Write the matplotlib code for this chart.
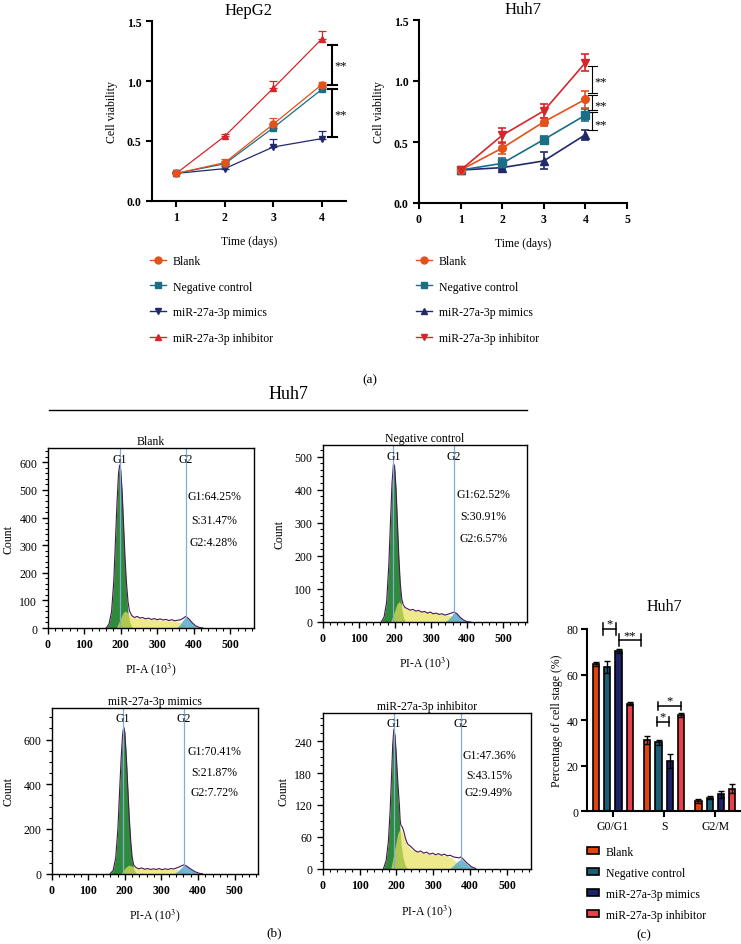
import matplotlib
matplotlib.use('Agg')
import matplotlib.pyplot as plt
from matplotlib.lines import Line2D
from matplotlib.patches import Patch
from matplotlib.ticker import MultipleLocator

plt.rcParams['font.family'] = ['Liberation Serif', 'DejaVu Serif']
plt.rcParams['mathtext.fontset'] = 'stix'
plt.rcParams['font.size'] = 8.5

# ---------------- data ----------------
groups = ['Blank', 'Negative control', 'miR-27a-3p mimics', 'miR-27a-3p inhibitor']
days = [1, 2, 3, 4]

hep_blank = [0.23, 0.32, 0.64, 0.97]
hep_blank_err = [0.01, 0.03, 0.05, 0.02]
hep_nc = [0.23, 0.31, 0.61, 0.93]
hep_nc_err = [0.01, 0.02, 0.03, 0.02]
hep_mimics = [0.23, 0.27, 0.45, 0.52]
hep_mimics_err = [0.01, 0.02, 0.07, 0.06]
hep_inhib = [0.23, 0.54, 0.94, 1.35]
hep_inhib_err = [0.01, 0.02, 0.06, 0.07]

huh_blank = [0.27, 0.45, 0.665, 0.85]
huh_blank_err = [0.02, 0.05, 0.03, 0.07]
huh_nc = [0.27, 0.325, 0.52, 0.72]
huh_nc_err = [0.02, 0.04, 0.03, 0.05]
huh_mimics = [0.27, 0.29, 0.345, 0.56]
huh_mimics_err = [0.02, 0.02, 0.07, 0.04]
huh_inhib = [0.27, 0.555, 0.755, 1.15]
huh_inhib_err = [0.02, 0.06, 0.06, 0.07]

# flow cytometry histograms: (PI-A x10^3, count) outline points
blank_g1 = [(160, 0), (168, 15), (175, 60), (181, 170), (186, 330), (190, 460), (194, 560), (197, 590),
            (200, 570), (204, 480), (208, 350), (212, 220), (216, 120), (220, 55), (225, 20), (232, 0)]
blank_s = [(188, 0), (198, 30), (206, 55), (213, 62), (220, 52), (230, 40), (245, 36), (265, 33), (285, 31),
           (305, 29), (325, 27), (345, 25), (360, 22), (372, 14), (385, 4), (395, 0)]
blank_g2 = [(352, 0), (362, 12), (370, 28), (378, 40), (386, 32), (395, 18), (405, 6), (415, 0)]
blank_env = [(160, 0), (168, 15), (175, 60), (181, 170), (186, 330), (190, 460), (194, 560), (197, 590),
             (200, 572), (204, 490), (208, 370), (212, 250), (216, 160), (220, 95), (224, 62), (230, 45),
             (238, 38), (245, 42), (252, 36), (260, 38), (268, 33), (276, 36), (284, 31), (292, 34), (300, 30),
             (308, 33), (316, 29), (324, 31), (332, 27), (340, 30), (348, 26), (356, 28), (364, 30), (372, 36),
             (378, 42), (386, 34), (395, 20), (405, 8), (415, 2), (425, 0)]

nc_g1 = [(162, 0), (170, 15), (177, 60), (183, 170), (188, 310), (192, 420), (196, 478), (199, 470),
         (203, 400), (207, 290), (211, 180), (215, 95), (219, 40), (224, 12), (230, 0)]
nc_s = [(188, 0), (198, 30), (206, 55), (212, 62), (220, 50), (230, 40), (245, 36), (265, 33), (285, 30),
        (305, 27), (325, 24), (345, 21), (355, 18), (365, 10), (375, 3), (385, 0)]
nc_g2 = [(338, 0), (348, 8), (356, 18), (364, 29), (372, 24), (380, 14), (390, 5), (400, 0)]
nc_env = [(162, 0), (170, 15), (177, 60), (183, 170), (188, 310), (192, 420), (196, 478), (199, 472),
          (203, 405), (207, 300), (211, 195), (215, 115), (219, 70), (223, 52), (228, 44), (235, 40), (242, 36),
          (250, 38), (258, 33), (266, 35), (274, 30), (282, 32), (290, 27), (298, 30), (306, 25), (314, 27),
          (322, 23), (330, 25), (338, 21), (346, 23), (354, 26), (364, 30), (372, 25), (380, 15), (390, 6),
          (400, 1), (410, 0)]

mim_g1 = [(160, 0), (168, 15), (175, 70), (181, 200), (186, 380), (190, 520), (194, 625), (197, 656),
          (200, 630), (204, 520), (208, 380), (212, 240), (216, 130), (220, 55), (225, 18), (232, 0)]
mim_s = [(190, 0), (200, 25), (210, 38), (218, 35), (228, 26), (245, 22), (265, 21), (285, 20), (305, 20),
         (325, 19), (340, 18), (352, 14), (362, 8), (372, 2), (380, 0)]
mim_g2 = [(335, 0), (345, 12), (355, 28), (362, 39), (370, 32), (380, 20), (392, 8), (405, 0)]
mim_env = [(160, 0), (168, 15), (175, 70), (181, 200), (186, 380), (190, 520), (194, 625), (197, 656),
           (200, 632), (204, 525), (208, 390), (212, 255), (216, 150), (220, 75), (224, 40), (230, 28),
           (238, 22), (246, 26), (254, 20), (262, 23), (270, 19), (278, 22), (286, 19), (294, 23), (302, 18),
           (310, 22), (318, 19), (326, 23), (334, 21), (342, 26), (350, 31), (356, 36), (362, 40), (370, 33),
           (380, 21), (392, 9), (405, 1), (412, 0)]

inh_g1 = [(165, 0), (172, 15), (178, 50), (183, 110), (187, 180), (190, 235), (193, 263), (196, 250),
          (199, 215), (202, 170), (205, 125), (209, 80), (213, 45), (218, 20), (224, 6), (230, 0)]
inh_s = [(185, 0), (195, 35), (203, 65), (210, 75), (216, 70), (222, 55), (230, 42), (240, 36), (255, 32),
         (275, 29), (295, 27), (315, 26), (335, 24), (350, 20), (362, 12), (375, 5), (390, 0)]
inh_g2 = [(345, 0), (355, 6), (365, 13), (375, 18), (383, 14), (393, 7), (405, 2), (415, 0)]
inh_env = [(165, 0), (172, 15), (178, 50), (183, 110), (187, 180), (190, 235), (193, 263), (196, 252),
           (199, 222), (202, 185), (205, 150), (208, 120), (210, 92), (212, 82), (216, 78), (220, 70),
           (224, 58), (228, 50), (232, 45), (238, 42), (244, 38), (250, 34), (258, 31), (266, 33), (274, 29),
           (282, 31), (290, 27), (298, 29), (306, 26), (314, 28), (322, 25), (330, 27), (338, 24), (346, 25),
           (354, 22), (362, 21), (370, 20), (375, 22), (382, 17), (392, 10), (404, 3), (415, 0)]

hist_titles = ['Blank', 'Negative control', 'miR-27a-3p mimics', 'miR-27a-3p inhibitor']
g1_gate = [197, 196, 195, 193]
g2_gate = [378, 364, 362, 375]
g1_pct = ['G1:64.25%', 'G1:62.52%', 'G1:70.41%', 'G1:47.36%']
s_pct = ['S:31.47%', 'S:30.91%', 'S:21.87%', 'S:43.15%']
g2_pct = ['G2:4.28%', 'G2:6.57%', 'G2:7.72%', 'G2:9.49%']

phases = ['G0/G1', 'S', 'G2/M']
bar_blank = [64.5, 31.2, 4.5]
bar_blank_err = [0.8, 1.8, 1.0]
bar_nc = [63.3, 30.3, 6.0]
bar_nc_err = [2.5, 1.0, 0.5]
bar_mimics = [70.3, 22.0, 7.5]
bar_mimics_err = [0.8, 3.0, 1.5]
bar_inhib = [47.3, 42.3, 10.0]
bar_inhib_err = [0.8, 0.8, 1.8]

# ---------------- style ----------------
C_BLANK = '#E4511B'
C_NC = '#1A6E85'
C_MIM = '#22296B'
C_INH = '#D7262B'
B_BLANK = '#E0450F'
B_NC = '#1B5F77'
B_MIM = '#1D2366'
B_INH = '#E8414C'
GREEN = '#2F8A3C'
YELLOW = '#E8E25A'
BLUE = '#4BA7C8'
OUTLINE = '#4A1650'
GATE = '#7FAFD6'

W, H = 741, 945
fig = plt.figure(figsize=(W / 100, H / 100), dpi=100)


def px_axes(l, t, r, b):
    return fig.add_axes([l / W, 1 - b / H, (r - l) / W, (b - t) / H])


def style_line_axes(ax):
    for s in ['top', 'right']:
        ax.spines[s].set_visible(False)
    for s in ['left', 'bottom']:
        ax.spines[s].set_linewidth(1.5)
    ax.tick_params(direction='out', length=4, width=1.5, labelsize=8.5)
    for lab in ax.get_xticklabels() + ax.get_yticklabels():
        lab.set_fontweight('bold')


# ---------------- (a) HepG2 ----------------
ax1 = px_axes(152, 22, 346, 202)
ax1.set_xlim(0.5, 4.5)
ax1.set_ylim(0, 1.5)
ax1.set_xticks(days)
ax1.set_yticks([0, 0.5, 1.0, 1.5])
ax1.set_yticklabels(['0.0', '0.5', '1.0', '1.5'])
hep_series = [(hep_inhib, hep_inhib_err, C_INH, '^'), (hep_mimics, hep_mimics_err, C_MIM, 'v'),
              (hep_nc, hep_nc_err, C_NC, 's'), (hep_blank, hep_blank_err, C_BLANK, 'o')]
for vals, err, c, m in hep_series:
    ax1.errorbar(days, vals, yerr=[[0] * 4, err], color=c, marker=m, ms=5, lw=0.9,
                 capsize=3, elinewidth=0.9, capthick=0.9)
style_line_axes(ax1)
ax1.set_title('HepG2', fontsize=12, pad=5)
ax1.set_xlabel('Time (days)', fontsize=8.5, labelpad=8)
ax1.set_ylabel('Cell viability', fontsize=8.5, labelpad=6)
# significance brackets
kw = dict(color='black', lw=1.5, clip_on=False)
ax1.plot([4.21, 4.21], [0.965, 1.30], **kw)
ax1.plot([4.21, 4.21], [0.53, 0.935], **kw)
for yy in [1.30, 0.965, 0.935, 0.53]:
    ax1.plot([4.12, 4.31], [yy, yy], **kw)
ax1.text(4.38, 1.13, '**', ha='center', va='center', fontsize=9, clip_on=False)
ax1.text(4.38, 0.72, '**', ha='center', va='center', fontsize=9, clip_on=False)

# ---------------- (a) Huh7 ----------------
ax2 = px_axes(419, 21, 627, 204)
ax2.set_xlim(0, 5)
ax2.set_ylim(0, 1.5)
ax2.set_xticks([0, 1, 2, 3, 4, 5])
ax2.set_yticks([0, 0.5, 1.0, 1.5])
ax2.set_yticklabels(['0.0', '0.5', '1.0', '1.5'])
huh_series = [(huh_mimics, huh_mimics_err, C_MIM, '^'), (huh_nc, huh_nc_err, C_NC, 's'),
              (huh_blank, huh_blank_err, C_BLANK, 'o'), (huh_inhib, huh_inhib_err, C_INH, 'v')]
for vals, err, c, m in huh_series:
    ax2.errorbar(days, vals, yerr=err, color=c, marker=m, ms=5.5, lw=1.2,
                 capsize=3, elinewidth=1.2, capthick=1.2)
style_line_axes(ax2)
ax2.set_title('Huh7', fontsize=12, pad=5)
ax2.set_xlabel('Time (days)', fontsize=8.5, labelpad=8)
ax2.set_ylabel('Cell viability', fontsize=8.5, labelpad=6)
kw2 = dict(color='black', lw=0.8, clip_on=False)
for top, bot, sy in [(1.12, 0.90, 1.0), (0.885, 0.76, 0.80), (0.745, 0.60, 0.645)]:
    ax2.plot([4.17, 4.17], [bot, top], **kw2)
    ax2.plot([4.06, 4.27], [top, top], **kw2)
    ax2.plot([4.06, 4.27], [bot, bot], **kw2)
    ax2.text(4.36, sy, '**', ha='center', va='center', fontsize=9, clip_on=False)

# legends (a)
hep_handles = [Line2D([], [], color=C_BLANK, marker='o', ms=5, lw=1),
               Line2D([], [], color=C_NC, marker='s', ms=5, lw=1),
               Line2D([], [], color=C_MIM, marker='v', ms=5, lw=1),
               Line2D([], [], color=C_INH, marker='^', ms=5, lw=1)]
huh_handles = [Line2D([], [], color=C_BLANK, marker='o', ms=5, lw=1),
               Line2D([], [], color=C_NC, marker='s', ms=5, lw=1),
               Line2D([], [], color=C_MIM, marker='^', ms=5, lw=1),
               Line2D([], [], color=C_INH, marker='v', ms=5, lw=1)]
for handles, xl in [(hep_handles, 150), (huh_handles, 416)]:
    fig.legend(handles, groups, loc='upper left', bbox_to_anchor=(xl / W, 1 - 256 / H),
               frameon=False, fontsize=8.5, handlelength=1.35, handletextpad=0.6,
               labelspacing=1.15, borderpad=0, borderaxespad=0)

fig.text(370 / W, 1 - 380 / H, '(a)', ha='center', va='center', fontsize=9.5)

# ---------------- (b) histograms ----------------
fig.text(288 / W, 1 - 395 / H, 'Huh7', ha='center', va='center', fontsize=13)
fig.add_artist(Line2D([49 / W, 527 / W], [1 - 410.5 / H, 1 - 410.5 / H], color='black', lw=1))

hist_boxes = [(47.7, 449, 254, 629), (322.7, 446, 526.7, 623), (51.7, 709.3, 258.3, 874.7), (322.7, 714.3, 531, 869.5)]
hist_ylim = [652, 535, 740, 293]
hist_major = [100, 100, 200, 60]
hist_minor = [20, 20, 50, 15]
hist_data = [(blank_g1, blank_s, blank_g2, blank_env), (nc_g1, nc_s, nc_g2, nc_env),
             (mim_g1, mim_s, mim_g2, mim_env), (inh_g1, inh_s, inh_g2, inh_env)]
stat_x = [0.806, 0.787, 0.786, 0.798]
stat_y = [(0.733, 0.60, 0.478), (0.723, 0.60, 0.475), (0.744, 0.614, 0.494), (0.733, 0.604, 0.491)]
ylab_x = [-0.163, -0.18, -0.18, -0.16]
xlab_y = [-0.18, -0.18, -0.2, -0.215]

for i in range(4):
    l, t, r, b = hist_boxes[i]
    ax = px_axes(l, t, r, b)
    g1, s, g2, env = hist_data[i]
    x, y = zip(*g1)
    ax.fill_between(x, y, color=GREEN, lw=0)
    x, y = zip(*s)
    ax.fill_between(x, y, color=YELLOW, alpha=0.7, lw=0)
    x, y = zip(*g2)
    ax.fill_between(x, y, color=BLUE, alpha=0.8, lw=0)
    x, y = zip(*env)
    ax.plot(x, y, color=OUTLINE, lw=0.8)
    ax.axvline(g1_gate[i], color=GATE, lw=0.9)
    ax.axvline(g2_gate[i], color=GATE, lw=0.9)
    ax.set_xlim(0, 565)
    ax.set_ylim(0, hist_ylim[i])
    ax.xaxis.set_major_locator(MultipleLocator(100))
    ax.xaxis.set_minor_locator(MultipleLocator(20))
    ax.yaxis.set_major_locator(MultipleLocator(hist_major[i]))
    ax.yaxis.set_minor_locator(MultipleLocator(hist_minor[i]))
    ax.tick_params(which='major', direction='out', length=4, width=1, labelsize=8.5)
    ax.tick_params(which='minor', direction='out', length=2.5, width=0.8)
    for lab in ax.get_xticklabels():
        lab.set_fontweight('bold')
    for sp in ax.spines.values():
        sp.set_linewidth(1)
    ax.set_title(hist_titles[i], fontsize=8.5, pad=3)
    ax.set_ylabel('Count', fontsize=8.5)
    ax.yaxis.set_label_coords(ylab_x[i], 0.5)
    ax.set_xlabel('PI-A (10$^3$)', fontsize=8.5)
    ax.xaxis.set_label_coords(0.5, xlab_y[i])
    ax.text(g1_gate[i], 0.94 * hist_ylim[i], 'G1', ha='center', va='center', fontsize=8.5)
    ax.text(g2_gate[i], 0.94 * hist_ylim[i], 'G2', ha='center', va='center', fontsize=8.5)
    for txt, yy in zip([g1_pct[i], s_pct[i], g2_pct[i]], stat_y[i]):
        ax.text(stat_x[i], yy, txt, transform=ax.transAxes, ha='center', va='center', fontsize=8.5)

fig.text(274 / W, 1 - 933 / H, '(b)', ha='center', va='center', fontsize=9.5)

# ---------------- (c) bar chart ----------------
ax3 = px_axes(587.3, 630, 741, 812.3)
pos = list(range(len(phases)))
offsets = [-0.33, -0.11, 0.11, 0.33]
bar_series = [(bar_blank, bar_blank_err, B_BLANK), (bar_nc, bar_nc_err, B_NC),
              (bar_mimics, bar_mimics_err, B_MIM), (bar_inhib, bar_inhib_err, B_INH)]
for (vals, err, c), off in zip(bar_series, offsets):
    ax3.bar([p + off for p in pos], vals, width=0.12, color=c, edgecolor='black', lw=1.2,
            yerr=err, error_kw=dict(ecolor='black', elinewidth=1, capsize=2, capthick=1))
ax3.set_xlim(-0.5, 2.5)
ax3.set_ylim(0, 80)
ax3.set_xticks(pos)
ax3.set_xticklabels(phases)
ax3.set_yticks([0, 20, 40, 60, 80])
for s in ['top', 'right']:
    ax3.spines[s].set_visible(False)
for s in ['left', 'bottom']:
    ax3.spines[s].set_linewidth(1.5)
ax3.tick_params(direction='out', length=4, width=1.5, labelsize=8.5, pad=2.5)
ax3.set_ylabel('Percentage of cell stage (%)', fontsize=8.5)
ax3.yaxis.set_label_coords(-0.158, 0.5)
ax3.set_title('Huh7', fontsize=11.5, pad=14)
kw3 = dict(color='black', lw=1.1, clip_on=False)
for x0, x1, yy, cap, star, sy in [(-0.2, 0.06, 80, 2.7, '*', 82.5), (0.11, 0.555, 75.3, 2.6, '**', 77.2),
                                  (0.865, 1.09, 39.3, 2.0, '*', 41.6), (0.875, 1.33, 46.3, 1.8, '*', 48.6)]:
    ax3.plot([x0, x1], [yy, yy], **kw3)
    ax3.plot([x0, x0], [yy - cap, yy + cap], **kw3)
    ax3.plot([x1, x1], [yy - cap, yy + cap], **kw3)
    ax3.text((x0 + x1) / 2, sy, star, ha='center', va='center', fontsize=9, clip_on=False)

bar_handles = [Patch(facecolor=c, edgecolor='black', lw=1.2) for c in [B_BLANK, B_NC, B_MIM, B_INH]]
fig.legend(bar_handles, groups, loc='upper left', bbox_to_anchor=(587 / W, 1 - 847 / H),
           frameon=False, fontsize=8.5, handlelength=1.0, handleheight=0.55, handletextpad=0.6,
           labelspacing=0.75, borderpad=0, borderaxespad=0)
fig.text(644 / W, 1 - 935 / H, '(c)', ha='center', va='center', fontsize=9.5)

fig.savefig('out.png', dpi=100)
